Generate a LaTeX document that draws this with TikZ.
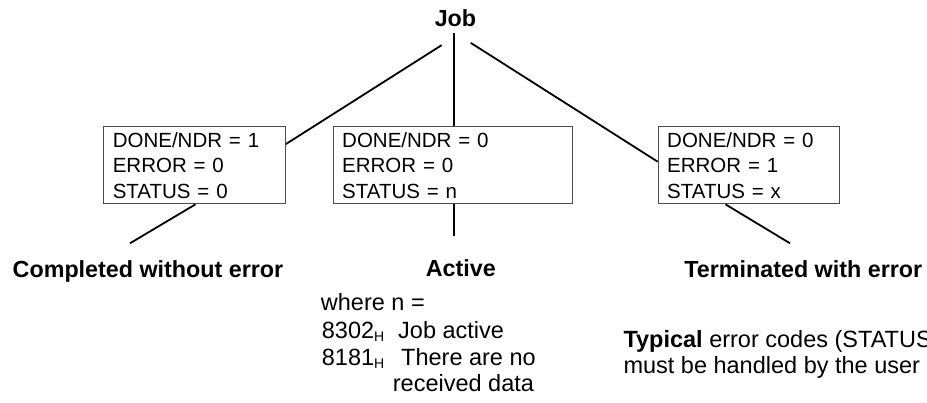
\documentclass[tikz,border=0pt]{standalone}
\usepackage{fontspec}
\setmainfont{Liberation Sans}
\begin{document}
\begin{tikzpicture}[x=1pt,y=-1pt,
  statebox/.style={draw=black!70, line width=1pt, rectangle, anchor=north west,
    inner xsep=9pt, inner ysep=5.5pt, align=left,
    font=\fontsize{20.5}{25.5}\selectfont},
  outcome/.style={inner sep=0pt, anchor=base, font=\fontsize{23.3}{28}\selectfont\bfseries},
  note/.style={inner sep=0pt, anchor=base west, font=\fontsize{23.5}{27}\selectfont},
  link/.style={line width=1.8pt, black}]
\useasboundingbox (0,0) rectangle (927,402);
\fill[white] (0,0) rectangle (927,402);
\clip (0,0) rectangle (927,402);

% root
\node[outcome] (job) at (455.5,26.7) {Job};

% state boxes
\node[statebox, text width=163.7pt] (b1) at (103.3,126.3)
  {DONE/NDR = 1\\ERROR = 0\\STATUS = 0};
\node[statebox, text width=221.6pt] (b2) at (332.7,126.3)
  {DONE/NDR = 0\\ERROR = 0\\STATUS = n};
\node[statebox, text width=163.6pt] (b3) at (657.7,126.3)
  {DONE/NDR = 0\\ERROR = 1\\STATUS = x};

% outcomes
\node[outcome] (c1) at (148,277) {Completed without error};
\node[outcome] (c2) at (460.8,276.5) {Active};
\node[outcome] (c3) at (803.3,277) {Terminated with error};

% free ends of the lower connectors
\coordinate (e1) at (130,243.3);
\coordinate (e2) at (454,236);
\coordinate (e3) at (790,243.3);

% connectors from the root
\draw[link] ([xshift=-13.8pt,yshift=-18pt]job.south) -- ([yshift=-17.7pt]b1.north east);
\draw[link] ([xshift=-1.5pt,yshift=-6.3pt]job.south) -- ([xshift=-1.5pt]job.south |- b2.north);
\draw[link] ([xshift=15.2pt,yshift=-15.7pt]job.south) -- ([yshift=-35.4pt]b3.north west);

% connectors to the outcomes
\draw[link] ([xshift=0.8pt]b1.south) -- (e1);
\draw[link] (b2.south -| e2) -- (e2);
\draw[link] ([xshift=-23.5pt]b3.south) -- (e3);

% status codes of the active job
\node[note] (w0) at (320.7,310) {where n =};
\node[note] (w1) at (321.7,338.3) {8302\raisebox{-3pt}{\fontsize{14}{14}\selectfont H}};
\node[note] (w1t) at (398,338.3) {Job active};
\node[note] (w2) at (321.7,365) {8181\raisebox{-3pt}{\fontsize{14}{14}\selectfont H}};
\node[note] (w2t) at (401,365) {There are no};
\node[note] (w3) at (392.7,391) {received data};

% error note
\node[note] (t1) at (623.3,347.3) {\textbf{Typical} error codes (STATUS};
\node[note] (t2) at (623.3,373.3) {must be handled by the user};
\end{tikzpicture}
\end{document}
